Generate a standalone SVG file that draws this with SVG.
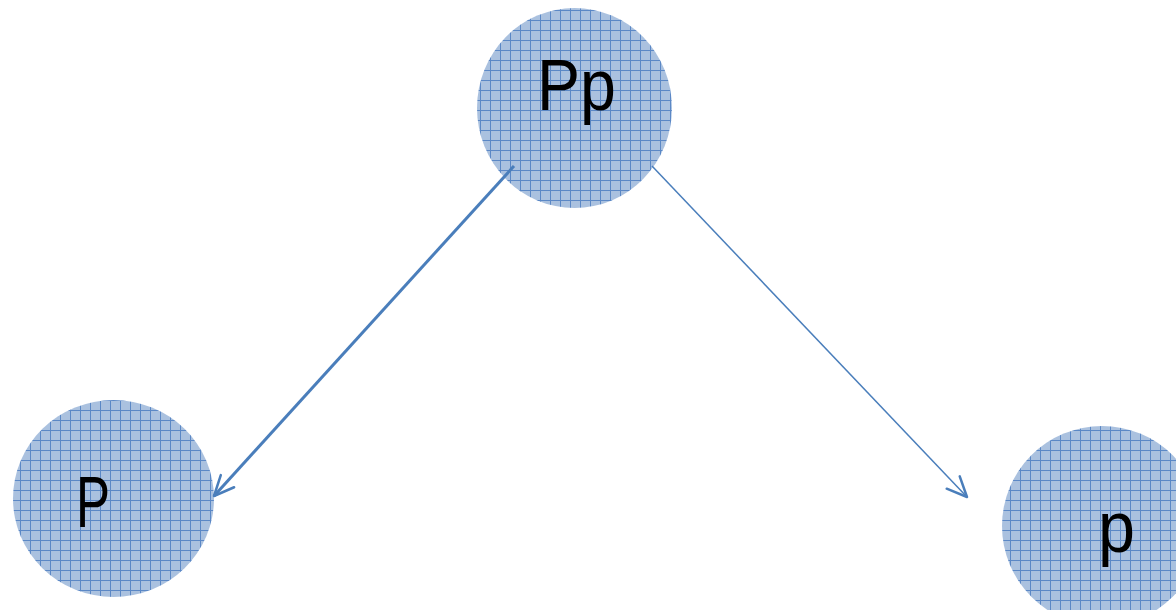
<svg xmlns="http://www.w3.org/2000/svg" width="1176" height="610" viewBox="0 0 1176 610">
  <style>
    .node { fill: url(#grid); }
    .lbl { font-family: "Liberation Sans", Arial, sans-serif; font-size: 72px; fill: #000; }
    .edge { fill: none; stroke: #4a7ebb; }
  </style>
  <defs>
    <pattern id="grid" patternUnits="userSpaceOnUse" width="10" height="10">
      <rect width="10" height="10" fill="#aac1df"/>
      <path d="M0 0.5H10M0.5 0V10" stroke="#5b88c6" stroke-width="1"/>
    </pattern>
    <marker id="arr" markerUnits="userSpaceOnUse" viewBox="-22 -12 24 24" refX="0" refY="0" markerWidth="24" markerHeight="24" orient="auto">
      <path d="M-20 -9 L0 0 L-20 9" fill="none" stroke="#4a7ebb" stroke-width="2.5" stroke-linecap="round" stroke-linejoin="round"/>
    </marker>
  </defs>
  <rect width="1176" height="610" fill="#fff"/>
  <g id="node-Pp">
    <ellipse class="node" cx="574.5" cy="108" rx="97.5" ry="100"/>
    <text class="lbl" x="537" y="110" textLength="79" lengthAdjust="spacingAndGlyphs">Pp</text>
  </g>
  <g id="node-P">
    <ellipse class="node" cx="113.5" cy="498.5" rx="100.5" ry="98.5"/>
    <text class="lbl" x="76" y="527" textLength="34" lengthAdjust="spacingAndGlyphs">P</text>
  </g>
  <g id="node-p">
    <ellipse class="node" cx="1102" cy="526" rx="100" ry="100"/>
    <text class="lbl" x="1098" y="552" textLength="37" lengthAdjust="spacingAndGlyphs">p</text>
  </g>
  <g id="connectors">
    <line class="edge" x1="514" y1="166" x2="214" y2="496" stroke-width="3" marker-end="url(#arr)"/>
    <line class="edge" x1="652" y1="166" x2="967" y2="497" stroke-width="1.5" marker-end="url(#arr)"/>
  </g>
</svg>
